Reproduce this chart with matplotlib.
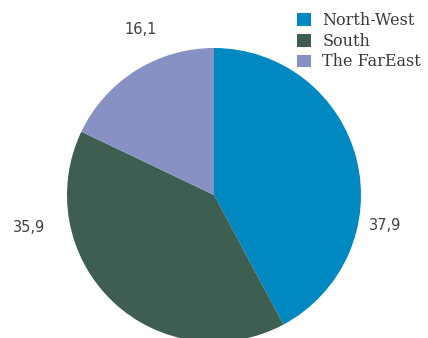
import matplotlib
matplotlib.use('agg')
import matplotlib.pyplot as plt
from matplotlib.patches import Patch
import numpy as np

regions = ["North-West", "South", "The FarEast"]
shares = [37.9, 35.9, 16.1]
value_labels = ["37,9", "35,9", "16,1"]
colors = ["#0088c1", "#3f5e52", "#8791c3"]

# label positions in pixel space (angle in degrees, distance from centre)
label_pos = [(-10, 174), (190, 188), (114, 181)]

W, H = 428, 338
cx, cy, r = 214, H - 195, 147

fig = plt.figure(figsize=(W / 100, H / 100), dpi=100)
ax = fig.add_axes([0, 0, 1, 1])

ax.pie(shares, colors=colors, startangle=90, counterclock=False,
       center=(cx, cy), radius=r, frame=True,
       wedgeprops=dict(linewidth=0))
ax.set_xlim(0, W)
ax.set_ylim(0, H)
ax.set_aspect('equal')
ax.axis('off')

for txt, (ang, d) in zip(value_labels, label_pos):
    a = np.radians(ang)
    ax.text(cx + d * np.cos(a), cy + d * np.sin(a), txt,
            ha='center', va='center', fontsize=10.5, color='#404040',
            family='DejaVu Sans')

handles = [Patch(facecolor=c, edgecolor='none') for c in colors]
fig.legend(handles, regions, loc='upper left',
           bbox_to_anchor=(291 / W, 1 - 6 / H), frameon=False,
           handlelength=0.85, handleheight=0.85, handletextpad=0.7,
           labelspacing=0.22, borderaxespad=0,
           prop=dict(family='DejaVu Serif', size=11.5),
           labelcolor='#3a3a3a')

fig.savefig('out.png', dpi=100)
